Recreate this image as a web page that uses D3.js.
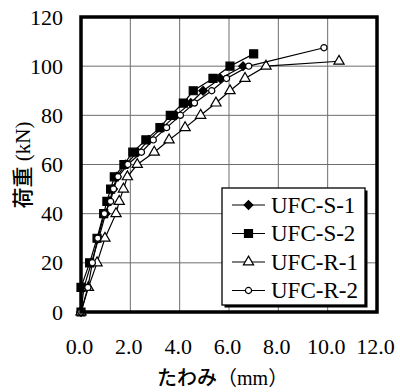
<!DOCTYPE html>
<html>
<head>
<meta charset="utf-8">
<script src="https://cdn.jsdelivr.net/npm/d3@7"></script>
<style>
  body { margin: 0; background: #fff; }
  text { font-family: "Liberation Serif", "Times New Roman", serif; }
  .jp { font-family: "Noto Sans CJK JP", sans-serif; }
</style>
</head>
<body>
<svg id="chart" width="400" height="392"></svg>
<script>
// load steps (kN) and deflections (mm)
const loadS1 = [0, 10, 20, 30, 40, 45, 50, 55, 60, 65, 70, 75, 80, 85, 90, 95, 100];
const deflS1 = [0, 0.12, 0.42, 0.72, 1.0, 1.15, 1.3, 1.45, 1.8, 2.3, 2.75, 3.3, 3.85, 4.45, 4.95, 5.65, 6.57];

const loadS2 = [0, 10, 20, 30, 40, 45, 50, 55, 60, 65, 70, 75, 80, 85, 90, 95, 100, 105];
const deflS2 = [0, 0, 0.35, 0.65, 0.92, 1.05, 1.2, 1.35, 1.74, 2.1, 2.63, 3.2, 3.62, 4.15, 4.55, 5.35, 6.04, 7.0];

const loadR1 = [0, 10, 20, 30, 40, 45, 50, 55, 60, 65, 70, 75, 80, 85, 90, 95, 100, 102];
const deflR1 = [0, 0.3, 0.65, 0.97, 1.42, 1.55, 1.72, 1.88, 2.28, 2.97, 3.57, 4.22, 4.85, 5.47, 6.04, 6.65, 7.5, 10.46];

const loadR2 = [0, 10, 20, 30, 40, 45, 50, 55, 60, 65, 70, 75, 80, 85, 90, 95, 100, 107.5];
const deflR2 = [0, 0.28, 0.46, 0.68, 0.95, 1.2, 1.32, 1.5, 1.9, 2.45, 2.93, 3.47, 4.03, 4.6, 5.3, 5.9, 6.8, 9.85];

const seriesNames = ["UFC-S-1", "UFC-S-2", "UFC-R-1", "UFC-R-2"];
const xTicks = [0, 2, 4, 6, 8, 10, 12];
const yTicks = [0, 20, 40, 60, 80, 100, 120];

const margin = { top: 17, left: 81, right: 23, bottom: 80 };
const width = 400 - margin.left - margin.right;
const height = 392 - margin.top - margin.bottom;

const svg = d3.select('#chart');
const g = svg.append('g').attr('transform', `translate(${margin.left},${margin.top})`);

const x = d3.scaleLinear().domain([0, 12]).range([0, width]);
const y = d3.scaleLinear().domain([0, 120]).range([height, 0]);

// grid
g.append('g').selectAll('line').data(xTicks.slice(1, -1)).join('line')
    .attr('x1', d => x(d)).attr('x2', d => x(d))
    .attr('y1', 0).attr('y2', height)
    .attr('stroke', '#6e6e6e').attr('stroke-width', 1);
g.append('g').selectAll('line').data(yTicks.slice(1, -1)).join('line')
    .attr('y1', d => y(d)).attr('y2', d => y(d))
    .attr('x1', 0).attr('x2', width)
    .attr('stroke', '#6e6e6e').attr('stroke-width', 1);

// axes (labels only)
const xAxis = g.append('g')
    .attr('transform', `translate(0,${height})`)
    .call(d3.axisBottom(x).tickValues(xTicks).tickSize(0).tickPadding(26).tickFormat(d3.format('.1f')));
xAxis.select('.domain').remove();
xAxis.selectAll('text').attr('font-size', 22).attr('font-family', '"Liberation Serif", serif').attr('fill', '#000').attr('dx', '-2');

const yAxis = g.append('g')
    .call(d3.axisLeft(y).tickValues(yTicks).tickSize(0).tickPadding(18));
yAxis.select('.domain').remove();
yAxis.selectAll('text').attr('font-size', 22).attr('font-family', '"Liberation Serif", serif').attr('fill', '#000');

// series
const symDiamond = d3.symbol().type(d3.symbolDiamond2).size(48);
const symSquare = d3.symbol().type(d3.symbolSquare).size(64);
const symTriangle = d3.symbol().type(d3.symbolTriangle2).size(75);
const symCircle = d3.symbol().type(d3.symbolCircle).size(30);

const series = [
    { name: seriesNames[0], xs: deflS1, ys: loadS1, sym: symDiamond, fill: '#000' },
    { name: seriesNames[1], xs: deflS2, ys: loadS2, sym: symSquare, fill: '#000' },
    { name: seriesNames[2], xs: deflR1, ys: loadR1, sym: symTriangle, fill: '#fff' },
    { name: seriesNames[3], xs: deflR2, ys: loadR2, sym: symCircle, fill: '#fff' }
];

const line = d3.line().x(d => x(d[0])).y(d => y(d[1]));

series.forEach(s => {
    const pts = s.xs.map((v, i) => [v, s.ys[i]]);
    g.append('path').datum(pts)
        .attr('d', line).attr('fill', 'none')
        .attr('stroke', '#000').attr('stroke-width', 1.2);
    g.append('g').selectAll('path').data(pts).join('path')
        .attr('d', s.sym)
        .attr('transform', d => `translate(${x(d[0])},${y(d[1])})`)
        .attr('fill', s.fill).attr('stroke', '#000').attr('stroke-width', 1.2);
});

// frame
g.append('rect')
    .attr('x', 0).attr('y', 0).attr('width', width).attr('height', height)
    .attr('fill', 'none').attr('stroke', '#000').attr('stroke-width', 3.5);

// legend
const lg = svg.append('g').attr('transform', 'translate(222,188)');
lg.append('rect').attr('x', 2.5).attr('y', 2.5).attr('width', 143).attr('height', 117).attr('fill', '#000');
lg.append('rect').attr('x', 0).attr('y', 0).attr('width', 143).attr('height', 117)
    .attr('fill', '#fff').attr('stroke', '#000').attr('stroke-width', 1.3);

series.forEach((s, i) => {
    const row = lg.append('g').attr('transform', `translate(0,${17 + i * 28.5})`);
    row.append('line').attr('x1', 10).attr('x2', 43).attr('y1', 0).attr('y2', 0)
        .attr('stroke', '#000').attr('stroke-width', 1.2);
    row.append('path').attr('d', s.sym).attr('transform', 'translate(26.5,0)')
        .attr('fill', s.fill).attr('stroke', '#000').attr('stroke-width', 1.2);
    row.append('text').attr('x', 49).attr('y', 0).attr('dy', '0.34em')
        .attr('font-size', 23).text(s.name);
});

// axis titles
const xt = svg.append('text').attr('x', 157).attr('y', 385).attr('font-size', 20);
xt.append('tspan').attr('class', 'jp').attr('font-weight', 500).text('たわみ');
xt.append('tspan').attr('class', 'jp').text('（');
xt.append('tspan').text('mm');
xt.append('tspan').attr('class', 'jp').text('）');

const yt = svg.append('text')
    .attr('transform', 'translate(30,165) rotate(-90)')
    .attr('text-anchor', 'middle').attr('font-size', 21);
yt.append('tspan').attr('class', 'jp').attr('font-weight', 500).text('荷重');
yt.append('tspan').text(' (kN)');
</script>
</body>
</html>
